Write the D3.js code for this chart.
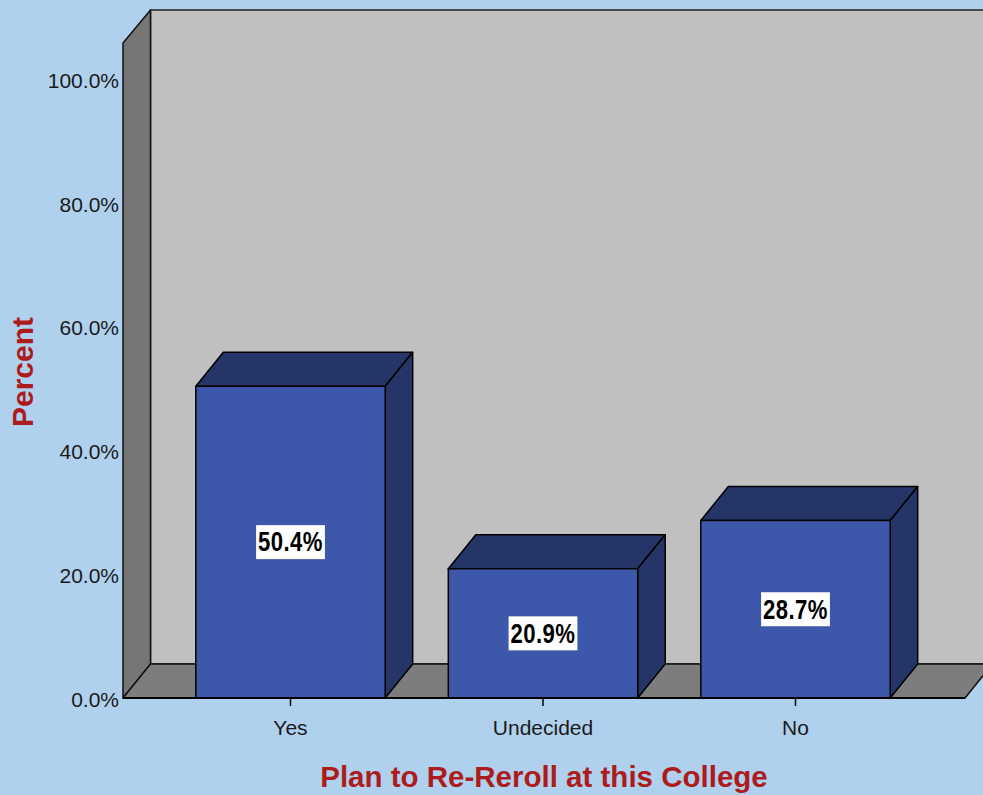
<!DOCTYPE html>
<html>
<head>
<meta charset="utf-8">
<script src="https://cdn.jsdelivr.net/npm/d3@7"></script>
<style>
  html, body { margin: 0; padding: 0; background: #b0d1ee; }
  svg { display: block; }
</style>
</head>
<body>
<svg id="chart" width="983" height="795"></svg>
<script>
// Survey responses: share of students planning to re-enroll
const categories = ["Yes", "Undecided", "No"];
const percents = [50.4, 20.9, 28.7];
const yTicks = [0, 20, 40, 60, 80, 100];
const xTitle = "Plan to Re-Reroll at this College";
const yTitle = "Percent";

const W = 983, H = 795;
const svg = d3.select("#chart");

// 3D depth offset shared by walls, floor and bars
const DX = 27.5, DY = -34;

// front plane extents
const frontLeft = 123, frontRight = 965;
const y = d3.scaleLinear().domain([0, 100]).range([698, 79.5]);
const x = d3.scaleBand().domain(categories)
  .range([164.25, 921.75]).paddingInner(0.25).paddingOuter(0.125);

const line = d3.line();
const y0 = y(0);

// back wall
svg.append("path")
  .attr("d", line([[frontLeft + DX, y0 + DY], [frontLeft + DX, 10], [W + 40, 10], [W + 40, y0 + DY]]) + "Z")
  .attr("fill", "#c0c0c0").attr("stroke", "#222").attr("stroke-width", 1.5);

// left wall
svg.append("path")
  .attr("d", line([[frontLeft, y0], [frontLeft, 43], [frontLeft + DX, 10], [frontLeft + DX, y0 + DY]]) + "Z")
  .attr("fill", "#767676").attr("stroke", "#111").attr("stroke-width", 1.5).attr("stroke-linejoin", "round");

// floor
svg.append("path")
  .attr("d", line([[frontLeft, y0], [frontLeft + DX, y0 + DY], [frontRight + DX, y0 + DY], [frontRight, y0]]) + "Z")
  .attr("fill", "#7d7d7d").attr("stroke", "#111").attr("stroke-width", 1.5).attr("stroke-linejoin", "round");

// bars
const bars = svg.append("g").selectAll("g").data(categories).join("g");
bars.each(function(c, i) {
  const g = d3.select(this);
  const x0 = x(c), x1 = x(c) + x.bandwidth(), yt = y(percents[i]);
  // top face
  g.append("path")
    .attr("d", line([[x0, yt], [x0 + DX, yt + DY], [x1 + DX, yt + DY], [x1, yt]]) + "Z")
    .attr("fill", "#263567").attr("stroke", "#000").attr("stroke-width", 1.5).attr("stroke-linejoin", "round");
  // side face
  g.append("path")
    .attr("d", line([[x1, yt], [x1 + DX, yt + DY], [x1 + DX, y0 + DY], [x1, y0]]) + "Z")
    .attr("fill", "#263567").attr("stroke", "#000").attr("stroke-width", 1.5).attr("stroke-linejoin", "round");
  // front face
  g.append("rect")
    .attr("x", x0).attr("y", yt).attr("width", x1 - x0).attr("height", y0 - yt)
    .attr("fill", "#3d57aa").attr("stroke", "#000").attr("stroke-width", 1.5);
});

// value labels on white boxes (narrow bold face via horizontal squeeze)
const squeeze = 0.82;
bars.each(function(c, i) {
  const g = d3.select(this);
  const cx = x(c) + x.bandwidth() / 2;
  const cy = (y(percents[i]) + y0) / 2;
  const lg = g.append("g").attr("transform", `translate(${cx},${cy})`);
  const t = lg.append("text")
    .attr("transform", `scale(${squeeze},1)`)
    .attr("x", 0).attr("y", 0)
    .attr("text-anchor", "middle").attr("dominant-baseline", "central")
    .attr("font-family", "'Liberation Sans', Arial, sans-serif")
    .attr("font-weight", "bold").attr("font-size", 27)
    .attr("letter-spacing", 0.5)
    .attr("fill", "#000")
    .text(d3.format(".1f")(percents[i]) + "%");
  const bb = t.node().getBBox();
  const w = bb.width * squeeze + 4;
  lg.insert("rect", "text")
    .attr("x", -w / 2).attr("y", -17).attr("width", w).attr("height", 34)
    .attr("fill", "#fff");
});

// front floor edge
svg.append("line")
  .attr("x1", frontLeft).attr("x2", frontRight).attr("y1", y0).attr("y2", y0)
  .attr("stroke", "#000").attr("stroke-width", 2);

// y axis labels
const fontAxis = "'Liberation Sans', Arial, sans-serif";
svg.append("g").selectAll("text").data(yTicks).join("text")
  .attr("x", 119).attr("y", d => y(d) + 1)
  .attr("text-anchor", "end").attr("dominant-baseline", "central")
  .attr("font-family", fontAxis).attr("font-size", 21).attr("fill", "#1a1a1a")
  .text(d => d3.format(".1f")(d) + "%");

// x axis ticks and labels
const xg = svg.append("g");
xg.selectAll("line").data(categories).join("line")
  .attr("x1", d => x(d) + x.bandwidth() / 2).attr("x2", d => x(d) + x.bandwidth() / 2)
  .attr("y1", y0).attr("y2", y0 + 8)
  .attr("stroke", "#000").attr("stroke-width", 1.5);
xg.selectAll("text").data(categories).join("text")
  .attr("x", d => x(d) + x.bandwidth() / 2).attr("y", 727)
  .attr("text-anchor", "middle").attr("dominant-baseline", "central")
  .attr("font-family", fontAxis).attr("font-size", 21).attr("fill", "#1a1a1a")
  .text(d => d);

// axis titles
svg.append("text")
  .attr("x", 544).attr("y", 776)
  .attr("text-anchor", "middle").attr("dominant-baseline", "central")
  .attr("font-family", fontAxis).attr("font-weight", "bold").attr("font-size", 29.5)
  .attr("fill", "#ad1c1c")
  .text(xTitle);
svg.append("text")
  .attr("transform", "translate(22,372) rotate(-90)")
  .attr("text-anchor", "middle").attr("dominant-baseline", "central")
  .attr("font-family", fontAxis).attr("font-weight", "bold").attr("font-size", 30)
  .attr("fill", "#ad1c1c")
  .text(yTitle);
</script>
</body>
</html>
